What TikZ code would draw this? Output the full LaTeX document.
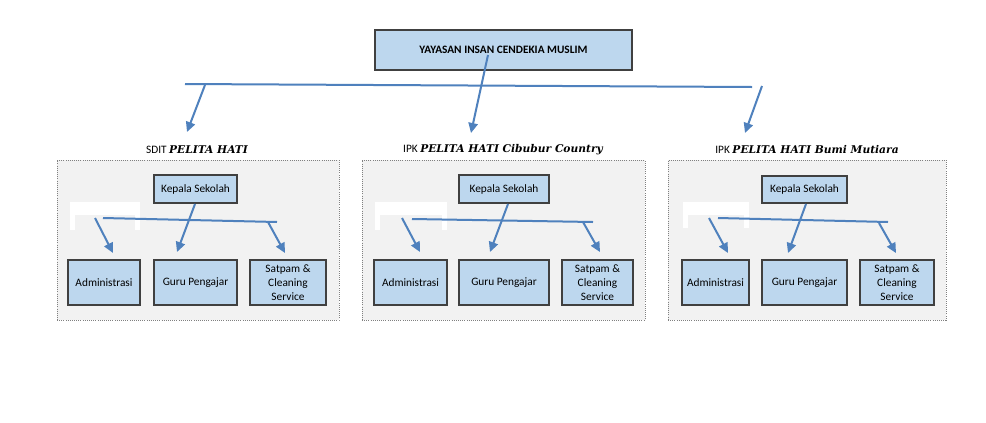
\documentclass[tikz,border=0pt]{standalone}
\usepackage{fontspec}
\setmainfont{Carlito}
\newfontfamily\decofont{DejaVu Serif}
\usetikzlibrary{arrows.meta}
\definecolor{boxfill}{RGB}{189,215,238}
\definecolor{boxdraw}{RGB}{64,64,64}
\definecolor{arr}{RGB}{79,129,189}
\definecolor{panelfill}{RGB}{242,242,242}
\newcommand{\deco}[1]{{\decofont\bfseries\itshape\fontsize{8}{9}\selectfont #1}}
\tikzset{
  bx/.style n args={2}{minimum width=#1*0.75pt, minimum height=#2*0.75pt},
  box/.style={draw=boxdraw, fill=boxfill, line width=1.1pt, inner sep=0pt, align=center, font=\fontsize{8.5}{10.5}\selectfont},
  panelbox/.style={draw=gray, fill=panelfill, densely dotted, line width=0.6pt, inner sep=0pt},
  conn/.style={draw=arr, line width=1.5pt},
  arrowc/.style={conn, -{Triangle[length=7.5pt,width=7pt]}},
  ttl/.style={font=\fontsize{8.5}{10}\selectfont, inner sep=0pt}
}
\begin{document}
\begin{tikzpicture}[x=0.75pt,y=-0.75pt]
\fill[white] (0,0) rectangle (986,422);
\useasboundingbox (0,0) rectangle (986,422);

% top
\node[box, bx={257}{40}, font=\bfseries\fontsize{8.5}{10}\selectfont] (top) at (503.5,50) {YAYASAN INSAN CENDEKIA MUSLIM};
\coordinate (hl) at (185,84);
\coordinate (hr) at (752,87);
\draw[conn] (hl) -- (hr);
\coordinate (a1s) at (205,85);
\coordinate (a1e) at (187,132);
\draw[arrowc] (a1s) -- (a1e);
\coordinate (a2s) at (488,55);
\coordinate (a2e) at (471,133);
\draw[arrowc] (a2s) -- (a2e);
\coordinate (a3s) at (762,86);
\coordinate (a3e) at (745,133);
\draw[arrowc] (a3s) -- (a3e);

% titles
\node[ttl] (t1) at (197,150) {SDIT \deco{PELITA HATI}};
\node[ttl] (t2) at (503,150) {IPK \deco{PELITA HATI Cibubur Country}};
\node[ttl] (t3) at (807,150) {IPK \deco{PELITA HATI Bumi Mutiara}};

% panel 1
\node[panelbox, bx={282}{160}] (p1) at (198,240) {};
\fill[white] (70,202) rectangle (140,215);
\fill[white] (70,215) rectangle (75,230);
\fill[white] (135,215) rectangle (140,230);
\node[box, bx={83}{28}] (k1) at (195.5,189) {Kepala Sekolah};
\node[box, bx={72}{45}] (ad1) at (104,282.5) {Administrasi};
\node[box, bx={83}{45}] (g1) at (195.5,282.5) {Guru Pengajar};
\node[box, bx={76}{45}] (s1) at (288,282.5) {Satpam \&\\Cleaning\\Service};
\coordinate (h1l) at (103,218); \coordinate (h1r) at (277,222);
\draw[conn] (h1l) -- (h1r);
\coordinate (ad1s) at (95,218); \coordinate (ad1e) at (113,253);
\draw[arrowc] (ad1s) -- (ad1e);
\coordinate (g1s) at (195,204); \coordinate (g1e) at (177,252);
\draw[arrowc] (g1s) -- (g1e);
\coordinate (s1s) at (268,222); \coordinate (s1e) at (285,253);
\draw[arrowc] (s1s) -- (s1e);

% panel 2
\node[panelbox, bx={283}{160}] (p2) at (503.5,240) {};
\fill[white] (375,202) rectangle (447,215);
\fill[white] (375,215) rectangle (380,230);
\fill[white] (442,215) rectangle (447,230);
\node[box, bx={90}{28}] (k2) at (504,189) {Kepala Sekolah};
\node[box, bx={73}{45}] (ad2) at (410.5,282.5) {Administrasi};
\node[box, bx={90}{45}] (g2) at (504,282.5) {Guru Pengajar};
\node[box, bx={71}{45}] (s2) at (597.5,282.5) {Satpam \&\\Cleaning\\Service};
\coordinate (h2l) at (412,219); \coordinate (h2r) at (593,222);
\draw[conn] (h2l) -- (h2r);
\coordinate (ad2s) at (402,218); \coordinate (ad2e) at (420,252);
\draw[arrowc] (ad2s) -- (ad2e);
\coordinate (g2s) at (508,204); \coordinate (g2e) at (490,252);
\draw[arrowc] (g2s) -- (g2e);
\coordinate (s2s) at (583,222); \coordinate (s2e) at (600,252);
\draw[arrowc] (s2s) -- (s2e);

% panel 3
\node[panelbox, bx={278}{160}] (p3) at (807,240) {};
\fill[white] (683,202) rectangle (749,215);
\fill[white] (683,215) rectangle (688,228);
\fill[white] (744,215) rectangle (749,228);
\node[box, bx={85}{27}] (k3) at (804.5,189.5) {Kepala Sekolah};
\node[box, bx={67}{45}] (ad3) at (715.5,282.5) {Administrasi};
\node[box, bx={85}{45}] (g3) at (804.5,282.5) {Guru Pengajar};
\node[box, bx={74}{45}] (s3) at (897,282.5) {Satpam \&\\Cleaning\\Service};
\coordinate (h3l) at (718,218); \coordinate (h3r) at (888,222);
\draw[conn] (h3l) -- (h3r);
\coordinate (ad3s) at (709,218); \coordinate (ad3e) at (728,253);
\draw[arrowc] (ad3s) -- (ad3e);
\coordinate (g3s) at (806,204); \coordinate (g3e) at (788,253);
\draw[arrowc] (g3s) -- (g3e);
\coordinate (s3s) at (879,223); \coordinate (s3e) at (896,253);
\draw[arrowc] (s3s) -- (s3e);
\end{tikzpicture}
\end{document}
